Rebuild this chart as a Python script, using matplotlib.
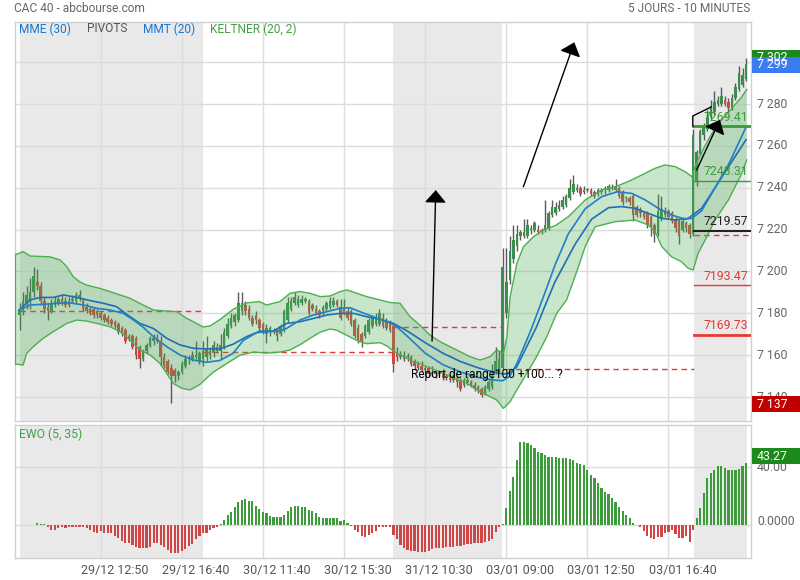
import matplotlib
matplotlib.use('Agg')
import matplotlib.pyplot as plt
from matplotlib.patches import Rectangle
from matplotlib.transforms import ScaledTranslation
import numpy as np

plt.rcParams['font.family'] = ['Roboto', 'DejaVu Sans']

# ---------------- data ----------------
opens = [7179,7182,7185,7186,7190,7195,7193,7186,7183,7181,7184,7185,7187,7186,7184,7186,7186,7188,7186,7183,
         7182,7182,7181,7180,7179,7178,7177,7176,7175,7173,7172,7169,7169,7168,7164,7158,7162,7165,7167,7168,
         7167,7159,7157,7154,7153,7150,7152,7155,7158,7158,7159,7157,
         7158,7159,7160,7161,7164,7162,7164,7169,7174,7176,7177,7181,7184,7182,7178,7179,7177,7175,7173,7171,
         7171,7172,7170,7172,7177,7182,7185,7184,7185,7186,7186,7184,7182,7181,7181,7182,7183,7184,7186,7183,
         7182,7181,7181,7177,7173,7170,7169,7171,7174,7175,7175,7178,7176,7175,
         7174,7161,7159,7160,7159,7159,7157,7156,7155,7153,7154,7152,7151,7152,7151,7150,7149,7148,7149,7148,
         7146,7147,7147,7146,7145,7144,7142,7144,7145,7152,7153,
         7154,7180,7196,7206,7212,7217,7217,7217,7220,7220,7220,7220,7220,7221,7227,7228,7230,7231,7232,7235,
         7238,7239,7240,7238,7239,7239,7238,7237,7238,7239,7239,7240,7239,7240,7238,7235,7235,7236,7231,7229,
         7228,7228,7226,7222,7218,7225,7229,7229,7228,7225,7224,7220,7223,7222,
         7218,7243,7256,7265,7268,7274,7276,7280,7280,7282,7281,7278,7283,7287,7289,7292]
highs = [7185,7190,7193,7197,7202,7201,7195,7188,7185,7187,7188,7188,7189,7188,7188,7189,7190,7191,7187,7185,
         7183,7183,7182,7181,7180,7179,7178,7177,7176,7174,7173,7170,7170,7169,7165,7163,7166,7169,7170,7170,
         7169,7161,7158,7156,7154,7153,7157,7160,7160,7162,7167,7162,
         7167,7169,7164,7167,7166,7170,7173,7178,7180,7180,7190,7190,7186,7184,7179,7181,7178,7176,7175,7174,
         7173,7173,7175,7182,7188,7188,7190,7189,7189,7188,7187,7185,7184,7182,7184,7186,7188,7188,7187,7187,
         7187,7183,7182,7178,7175,7171,7175,7178,7179,7180,7182,7180,7178,7177,
         7175,7164,7162,7162,7161,7160,7158,7157,7157,7155,7155,7155,7153,7153,7152,7151,7151,7151,7150,7149,
         7149,7150,7148,7147,7146,7145,7146,7148,7156,7164,7162,
         7211,7211,7217,7222,7222,7220,7225,7225,7222,7224,7222,7221,7234,7229,7234,7233,7234,7236,7237,7244,
         7246,7242,7241,7241,7240,7240,7239,7240,7240,7241,7242,7242,7244,7241,7239,7236,7236,7237,7232,7231,
         7229,7229,7227,7223,7237,7236,7231,7230,7229,7226,7225,7226,7224,7223,
         7268,7258,7268,7271,7277,7282,7286,7284,7288,7284,7283,7285,7290,7298,7297,7302]
lows = [7172,7179,7182,7182,7188,7191,7184,7180,7177,7180,7183,7184,7184,7183,7183,7185,7185,7186,7181,7180,
        7179,7178,7178,7177,7176,7175,7174,7173,7170,7169,7166,7167,7163,7158,7154,7157,7161,7164,7165,7166,
        7155,7154,7151,7137,7147,7148,7151,7154,7156,7157,7158,7156,
        7155,7157,7158,7159,7161,7158,7163,7168,7173,7174,7176,7179,7179,7177,7174,7175,7171,7170,7166,7169,
        7170,7167,7169,7171,7176,7181,7184,7183,7184,7185,7179,7181,7179,7178,7179,7181,7182,7183,7183,7177,
        7179,7177,7174,7168,7166,7164,7168,7170,7173,7174,7174,7173,7172,7171,
        7152,7157,7158,7157,7157,7155,7153,7153,7152,7152,7150,7150,7149,7150,7148,7148,7147,7147,7145,7143,
        7145,7146,7145,7143,7142,7140,7141,7143,7144,7151,7152,
        7153,7178,7194,7204,7210,7215,7216,7216,7218,7219,7218,7218,7219,7220,7226,7227,7229,7230,7231,7234,
        7237,7238,7236,7237,7238,7236,7235,7236,7237,7237,7238,7239,7238,7235,7232,7233,7232,7224,7226,7226,
        7225,7221,7217,7214,7217,7224,7226,7225,7223,7219,7213,7219,7219,7216,
        7217,7241,7255,7263,7267,7273,7275,7279,7279,7279,7276,7277,7282,7286,7288,7291]
closes = [7182,7186,7189,7190,7198,7193,7186,7182,7181,7185,7186,7187,7185,7184,7186,7187,7189,7189,7182,7181,
          7180,7179,7179,7178,7177,7176,7175,7174,7171,7170,7167,7168,7164,7160,7158,7162,7165,7168,7168,7167,
          7159,7155,7152,7150,7150,7152,7156,7158,7159,7160,7160,7161,
          7162,7163,7162,7165,7162,7165,7171,7175,7178,7179,7185,7185,7181,7178,7175,7177,7173,7172,7170,7173,
          7172,7169,7174,7181,7185,7186,7188,7187,7187,7187,7180,7182,7180,7179,7183,7185,7186,7186,7184,7178,
          7180,7178,7175,7169,7167,7167,7174,7177,7178,7178,7180,7174,7173,7172,
          7156,7159,7160,7158,7159,7156,7155,7154,7153,7154,7151,7151,7152,7151,7149,7149,7148,7150,7147,7144,
          7148,7148,7146,7144,7143,7141,7145,7147,7150,7157,7158,
          7202,7195,7210,7215,7218,7219,7219,7222,7221,7223,7219,7219,7222,7228,7231,7231,7232,7234,7236,7240,
          7242,7240,7237,7239,7239,7237,7236,7239,7239,7240,7241,7240,7241,7236,7233,7235,7233,7227,7227,7228,
          7226,7222,7221,7218,7229,7230,7227,7226,7224,7221,7217,7224,7221,7218,
          7265,7257,7267,7269,7274,7279,7281,7282,7284,7280,7278,7283,7288,7295,7294,7299]

ewo = [0,0,0,0,0,1.8,1.2,0.6,-1.0,-3.0,-3.2,-2.2,-1.5,-1.6,-1.4,-1.0,-0.9,-1.3,-1.5,-2.0,
       -3.2,-4.4,-5.0,-3.8,-5.5,-5.5,-5.6,-7.4,-9.0,-10.6,-12.0,-12.4,-13.6,-15.2,-15.9,-16.0,-15.9,-14.7,-12.4,-12.0,
       -13.6,-15.2,-17.0,-18.9,-19.3,-19.3,-17.5,-16.6,-14.3,-12.9,-9.7,-7.4,-5.5,-5.5,-3.2,-2.0,-0.9,0.9,3.7,7.1,
       9.4,12.4,16.3,17.5,17.9,17.0,17.0,13.3,11.0,9.4,8.3,6.4,5.5,5.5,6.0,7.1,10.1,12.4,13.3,13.3,
       12.9,12.4,10.6,10.1,8.3,5.5,4.8,4.8,5.3,5.3,4.8,3.2,3.7,1.4,-0.5,-3.2,-4.4,-7.4,-8.3,-6.7,
       -5.0,-3.7,-1.4,-1.4,-1.2,-1.4,-6.5,-9.7,-13.6,-15.9,-17.0,-17.5,-17.7,-18.2,-18.6,-18.6,-17.7,-16.6,-15.9,-15.4,
       -15.4,-15.2,-14.7,-14.7,-14.3,-14.0,-13.6,-12.9,-12.9,-12.4,-12.0,-12.0,-11.3,-10.6,-9.7,-4.4,-1.4,0.9,11.7,23.7,
       33.1,45.0,57.2,57.2,56.6,55.4,53.1,50.3,49.7,48.5,47.4,47.4,46.9,46.2,46.2,46.2,45.7,45.0,43.2,42.3,
       41.6,38.2,34.7,32.4,29.4,25.5,23.2,21.6,18.6,16.3,12.4,10.1,7.1,4.8,1.8,0.3,-1.4,-3.7,-7.4,-9.0,
       -9.7,-8.3,-7.8,-5.0,-4.4,-3.2,-6.0,-9.0,-9.0,-7.4,-11.3,-3.2,4.8,11.7,22.0,32.4,36.3,38.2,40.9,40.9,
       39.3,38.2,38.2,38.2,38.9,40.9,43.27]

mme_x = [0,2.9,5.8,9.6,12.4,16.2,20,23.8,27.5,31.3,34.1,37.9,41.7,45.5,49.3,53,56.8,60.6,64.4,68.2,71.9,75.7,79.5,
         83.4,87.1,90.9,94.7,98.4,102.2,106,110,115,120,125,130,134,137.2,139,141,143.8,146.6,148.5,151.8,157.5,
         162.2,167,170.7,174.5,178.2,182.1,185.9,189.6,193.4,197.2,201,206]
mme_y = [7181.6,7186.4,7187.6,7187.6,7188.8,7187.6,7186.1,7184.8,7183.2,7178.4,7175.2,7172.8,7168.1,7164.9,7163.3,
         7163,7163,7165.3,7168.9,7171.5,7171.5,7175.2,7176,7177.6,7179.2,7180,7180,7178.4,7177.2,7175.2,7171.5,7166,
         7161,7157,7154,7152.1,7151,7151.5,7154.5,7164.1,7173.6,7181.6,7195,7213,7225,7230.5,7231,7230.2,7227.8,
         7225.4,7224.6,7225.4,7230.2,7240,7250,7263]
mmt_x = [0,2.9,6.7,10.5,14.3,18.1,21.9,25.6,29.4,32.3,35.1,37.9,41.7,45.5,49.3,53,56.8,60.6,63.4,67.2,71,73.8,75.7,
         79.5,83.3,87.1,90.9,93.7,96.5,100.3,104.1,106.4,110,115,120,125,130,134,137,139,141,143,145,147,149,151.8,
         155.6,160.4,165.1,169.5,173.6,177.4,181.1,184.9,188.7,190.6,193.4,197.2,201,206]
mmt_y = [7181.6,7184,7184.3,7184.8,7185,7184,7182.4,7181.6,7180,7176.8,7173.3,7168.9,7164.1,7160.1,7157.7,7156.6,
         7157.5,7161,7167,7170.8,7171.3,7171.6,7172.8,7176.8,7179.2,7180.8,7182.4,7182.7,7180.8,7178.4,7176,7174.4,
         7169,7161,7155.5,7152,7149.4,7148.2,7147.8,7150,7156,7164,7172,7181,7190,7203,7218,7230,7235.8,7238.1,
         7237.3,7234.2,7230.2,7227,7225,7225.4,7229,7240,7251,7269]

ku_x = [-1.39,1,3,8.6,11.5,13.4,15.2,17,19,22.8,25.6,28.5,31.3,35,38,41.7,44.6,47.4,49.3,52,54,56.8,60.6,64.4,68,70,
        73.8,76.7,79.5,82.3,85.2,88,90.9,92.8,95.6,98.4,102.2,105,107.9,110.7,113.5,116.4,119.2,122,124.9,127.7,
        130.6,133.4,135.3,137.2,138.2,139.1,141,142.9,145.7,148.5,152,155.6,160.4,165.1,168.9,172.6,176.4,180.2,
        183,185.9,188.7,190.6,191.5,194,196.3,198.6,201,203,204.8,206.2]
ku_y = [7207.9,7209.5,7207.4,7207,7205.5,7202.3,7197.5,7195.1,7193.5,7191.9,7190.4,7188.8,7187.2,7184,7181.6,7181.1,
        7180.8,7177.6,7176,7173.5,7174,7177,7182,7185,7185.6,7184,7185.6,7189.6,7190.4,7189.6,7188,7188.3,7190.4,
        7191.2,7189.6,7188,7186.4,7185.2,7184.8,7178.4,7174.4,7169.6,7166.5,7164.1,7161.7,7159.3,7157.7,7159.3,
        7162.5,7161,7169,7188,7203.9,7211.9,7216.6,7219.8,7222,7226.2,7234.2,7239,7240.5,7243,7246.1,7249.3,
        7250.9,7250.1,7247.7,7245.3,7250,7259,7266,7272,7276,7280,7283.5,7287]
kl_x = [-1.39,1,2,3.9,6.7,9.6,13.4,16.2,19,21.9,25.6,28.5,31.3,34.1,37,39.8,41.7,43.6,46,48.3,51.1,53,55,58.7,62.5,
        66.3,70,73.8,76.7,79.5,82.3,85.2,88,89.9,92.8,95.6,98.4,102.2,104.1,106,108,111.7,115.5,119.2,123,126.8,
        130.6,133.4,135.3,137.2,139.1,141,143.8,146.6,149.5,152.3,155.1,158,160.4,163.2,168.9,174.5,178.3,180.2,
        182.1,184.9,187.7,189.6,191,192.4,194.4,197.2,201,204.8,206.2]
kl_y = [7155.8,7155.3,7160.9,7164.1,7168.1,7171.3,7175.2,7176.8,7176.3,7175.2,7173.6,7171.3,7167.3,7162.5,7160.1,
        7156.1,7151.3,7146.5,7144.2,7143.4,7146,7149,7152,7156,7160,7161.5,7161,7161.5,7162.5,7165,7168,7171,
        7172.5,7172,7169.5,7167,7165.5,7166,7164.5,7162,7160.1,7156.9,7154.5,7152.1,7149,7146.6,7142.6,7140.2,
        7138.6,7134.6,7137.8,7143.4,7151.3,7159.3,7168.9,7180,7186.4,7200,7212,7221.4,7223.8,7224.6,7222.2,
        7219,7211.9,7207,7204.7,7201.5,7200.7,7208.7,7215,7224.6,7234.2,7246.9,7253.3]

tick_idx = [23, 46, 69, 92, 115, 138, 161, 184]
tick_labels = ['29/12 12:50', '29/12 16:40', '30/12 11:40', '30/12 15:30',
               '31/12 10:30', '03/01 09:00', '03/01 12:50', '03/01 16:40']
gray_days = [(0.1, 52.1), (106.0, 136.7), (191.1, 206.2)]
pivot_segments = [(0.1, 52.1, 7181.1), (52.1, 106.0, 7161.4), (106.0, 136.7, 7173.3),
                  (137.8, 191.1, 7153.5), (191.1, 207.4, 7217.4)]
level_values = [7269.41, 7243.31, 7219.57, 7193.47, 7169.73]
level_colors = ['#3a9a3a', '#3a9a3a', '#222222', '#e53935', '#e53935']
level_widths = [2.0, 1.0, 1.5, 1.0, 2.0]
price_ticks = [7140, 7160, 7180, 7200, 7220, 7240, 7260, 7280, 7300]
last_price = 7299
max_price = 7302
min_price = 7137
ewo_last = 43.27

# ---------------- figure ----------------
W, H = 800, 580
fig = plt.figure(figsize=(8, 5.8), dpi=100)
fig.patch.set_facecolor('white')

def fx(px):
    return px / W

def fy(py):
    return 1 - py / H

X0, X1 = 14.7, 751
ax = fig.add_axes([fx(X0), fy(421), fx(X1 - X0), (421 - 22) / H])
ax2 = fig.add_axes([fx(X0), fy(558), fx(X1 - X0), (558 - 425) / H])

XL = (-1.39, 207.4)
YL = (7128.57, 7319.2)
grid_c = '#dcdcdc'
spine_c = '#d0d0d0'
for a in (ax, ax2):
    a.set_xlim(*XL)
    a.set_facecolor('white')
    for s in a.spines.values():
        s.set_color(spine_c)
        s.set_linewidth(1)
    for d0, d1 in gray_days:
        a.axvspan(d0, d1, color='#e9e9e9', lw=0, zorder=0)
    for t in tick_idx:
        a.axvline(t, color=grid_c, lw=1, zorder=0.5)

ax.set_ylim(*YL)
ax2.set_ylim(-22.6, 69.2)
for v in price_ticks:
    ax.axhline(v, color=grid_c, lw=1, zorder=0.5)
for v in (0, 40):
    ax2.axhline(v, color=grid_c, lw=1, zorder=0.5)

# candles
n = len(closes)
idx = np.arange(n)
o = np.array(opens, float); c = np.array(closes, float)
h = np.array(highs, float); l = np.array(lows, float)
up = c >= o
ax.vlines(idx, l, h, color='#5a5a5a', lw=1, zorder=2)
body_h = np.where(np.abs(c - o) < 0.6, 0.6, c - o)
ax.bar(idx[up], body_h[up], bottom=o[up], width=0.72, color='#3a8f4f', lw=0, zorder=3)
ax.bar(idx[~up], (c - o)[~up], bottom=o[~up], width=0.72, color='#d2463f', lw=0, zorder=3)

# pivots dashed
for x0, x1, v in pivot_segments:
    ax.plot([x0, x1], [v, v], color='#e53935', lw=1, dashes=(4, 3), zorder=4)

# keltner band
poly_x = list(ku_x) + list(kl_x[::-1])
poly_y = list(ku_y) + list(kl_y[::-1])
ax.fill(poly_x, poly_y, color='#4caf50', alpha=0.3, lw=0, zorder=5)
ax.plot(ku_x, ku_y, color='#4caf50', lw=1, zorder=5)
ax.plot(kl_x, kl_y, color='#4caf50', lw=1, zorder=5)
ax.plot([ku_x[0], kl_x[0]], [ku_y[0], kl_y[0]], color='#4caf50', lw=1.5, zorder=5)

# moving averages
ax.plot(mme_x, mme_y, color='#1f6fb4', lw=1.2, zorder=6)
ax.plot(mmt_x, mmt_y, color='#1f80c8', lw=1.2, zorder=6)

# day-5 levels
for v, col, lw in zip(level_values, level_colors, level_widths):
    ax.plot([191.1, XL[1]], [v, v], color=col, lw=lw, zorder=6)
    ax.text(206.6, v + 1.2, f'{v:.2f}', color=col, fontsize=8.8, ha='right', va='bottom', zorder=8)

# drawings
arrow_style = dict(arrowstyle='-|>,head_length=0.7,head_width=0.6', mutation_scale=11,
                   color='black', lw=1, shrinkA=0, shrinkB=0)
ax.annotate('', xy=(118.0, 7238.9), xytext=(116.96, 7166.8), arrowprops=arrow_style, zorder=9)
ax.annotate('', xy=(157.3, 7309.5), xytext=(142.85, 7240.5), arrowprops=arrow_style, zorder=9)
ax.annotate('', xy=(198.6, 7272.5), xytext=(192.0, 7248.5), arrowprops=arrow_style, zorder=9)
ax.plot([190.9, 190.9, 196.1], [7269.2, 7274.3, 7278.6], color='black', lw=1, zorder=9)
ax.text(111.0, 7151.0, 'Report de range100 +100... ?', fontsize=8.6, color='black',
        ha='left', va='center', zorder=9)

# EWO histogram
ew = np.array(ewo, float)
cols = np.where(ew >= 0, '#3c9c3c', '#d04545')
ax2.bar(idx, ew, width=0.62, color=cols, lw=0, zorder=3)

# axes ticks
ax.set_xticks([]); ax.set_yticks([])
ax2.set_yticks([])
ax2.set_xticks(tick_idx)
ax2.set_xticklabels(tick_labels, fontsize=9, color='#555555')
ax2.tick_params(axis='x', length=0, pad=4)
shift = ScaledTranslation(14 / 100, 0, fig.dpi_scale_trans)
for lab in ax2.get_xticklabels():
    lab.set_transform(lab.get_transform() + shift)

for v in price_ticks:
    yy = 271.5 - (v - 7200) * 2.093
    fig.text(fx(757), fy(yy), f'{v:,}'.replace(',', ' '), fontsize=8.8, color='#666666',
             ha='left', va='center')
fig.text(fx(757), fy(525.3 - 4), '0.0000', fontsize=8.8, color='#666666', ha='left', va='center')
fig.text(fx(757), fy(467.3), '40.00', fontsize=8.8, color='#666666', ha='left', va='center')

def box(y0, y1, fc, txt):
    fig.add_artist(Rectangle((fx(752), fy(y1)), fx(48), (y1 - y0) / H, transform=fig.transFigure,
                             facecolor=fc, edgecolor='none', zorder=10))
    fig.text(fx(757), fy((y0 + y1) / 2), txt, fontsize=8.8, color='white', ha='left', va='center', zorder=11)

box(50, 65, '#1b8a1b', f'{max_price:,}'.replace(',', ' '))
box(57, 73, '#3b7cf0', f'{last_price:,}'.replace(',', ' '))
box(396, 412, '#c00000', f'{min_price:,}'.replace(',', ' '))
box(448, 464, '#1b8a1b', f'{ewo_last:.2f}')

# texts
fig.text(fx(14), fy(8), 'CAC 40 - abcbourse.com', fontsize=8.6, color='#666666', ha='left', va='center')
fig.text(fx(750), fy(8), '5 JOURS - 10 MINUTES', fontsize=8.6, color='#666666', ha='right', va='center')
fig.text(fx(19), fy(29), 'MME (30)', fontsize=8.6, color='#1976d2', ha='left', va='center')
fig.text(fx(87), fy(29), 'PIVOTS', fontsize=8.6, color='#555555', ha='left', va='center')
fig.text(fx(143), fy(29), 'MMT (20)', fontsize=8.6, color='#1976d2', ha='left', va='center')
fig.text(fx(210), fy(29), 'KELTNER (20, 2)', fontsize=8.6, color='#43a047', ha='left', va='center')
fig.text(fx(19), fy(434), 'EWO (5, 35)', fontsize=8.7, color='#43a047', ha='left', va='center')

fig.savefig('out.png', dpi=100)
